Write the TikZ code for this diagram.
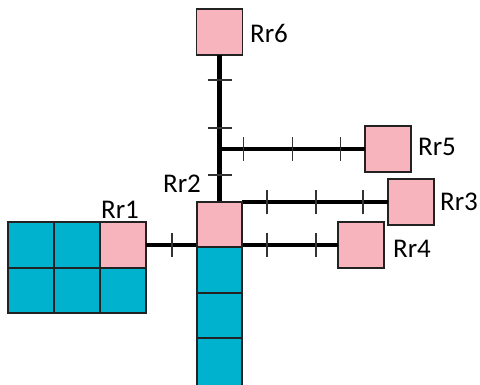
\documentclass[tikz,border=0pt]{standalone}
\usepackage{fontspec}
\setmainfont{Carlito}
\usetikzlibrary{decorations.markings,calc}
\definecolor{rpink}{HTML}{F8B4BC}
\definecolor{rcyan}{HTML}{00B2CE}
\definecolor{edge}{HTML}{222222}
\tikzset{
  cellbox/.style={draw=edge,line width=1.4pt,minimum size=45pt,inner sep=0pt,outer sep=0pt},
  pinkbox/.style={cellbox,fill=rpink},
  cyanbox/.style={cellbox,fill=rcyan},
  link/.style={line width=4.5pt,black},
  tickline/.style={line width=1.6pt,draw=black!80},
  tk/.style={postaction={decorate,decoration={markings,mark=at position #1 with {\draw[tickline] (0,-12pt)--(0,12pt);}}}},
  lbl/.style={font=\fontsize{27}{27}\selectfont,inner sep=0pt}
}
\begin{document}
\begin{tikzpicture}[x=1pt,y=-1pt]
\useasboundingbox (0,0) rectangle (480,384);
% Rr1 grid
\node[cyanbox,minimum width=46pt,minimum height=46pt] (c11) at (31,245) {};
\node[cyanbox,minimum width=46pt,minimum height=46pt] (c12) at (77,245) {};
\node[pinkbox,minimum width=46pt,minimum height=46pt] (Rr1) at (123,245) {};
\node[cyanbox,minimum width=46pt,minimum height=45pt] (c21) at (31,290.5) {};
\node[cyanbox,minimum width=46pt,minimum height=45pt] (c22) at (77,290.5) {};
\node[cyanbox,minimum width=46pt,minimum height=45pt] (c23) at (123,290.5) {};
% Rr2 column
\node[pinkbox] (Rr2) at (219.5,224.5) {};
\node[cyanbox] (d1) at (219.5,270) {};
\node[cyanbox] (d2) at (219.5,315.5) {};
\node[cyanbox,minimum height=52pt] (d3) at (219.5,364) {};
% other routers
\node[pinkbox,minimum size=46pt] (Rr6) at (219.5,32) {};
\node[pinkbox,minimum size=46pt] (Rr5) at (388,149) {};
\node[pinkbox,minimum size=46pt] (Rr3) at (411,202) {};
\node[pinkbox,minimum size=46pt] (Rr4) at (361,245) {};
% labels
\node[lbl] (L6) at (269,33) {Rr6};
\node[lbl] (L5) at (437,147) {Rr5};
\node[lbl] (L3) at (459,202) {Rr3};
\node[lbl] (L4) at (412,249) {Rr4};
\node[lbl] (L2) at (182,184) {Rr2};
\node[lbl] (L1) at (120,210) {Rr1};
% connectors
\coordinate (j5) at (Rr5.west -| Rr6.south);
\draw[link,tk=25pt,tk=73pt,tk=120pt] (Rr6.south) -- (Rr2.north);
\draw[link,tk=24pt,tk=73pt,tk=121pt] (j5) -- (Rr5.west);
\draw[link,tk=25pt,tk=74pt,tk=121pt] (Rr3.west -| Rr2.east) -- (Rr3.west);
\draw[link,tk=25pt,tk=74pt] (Rr4.west -| Rr2.east) -- (Rr4.west);
\draw[link,tk=26pt] (Rr1.east) -- (Rr1.east -| Rr2.west);
% redraw box borders over line ends
\node[pinkbox] at (Rr2) {};
\end{tikzpicture}
\end{document}
